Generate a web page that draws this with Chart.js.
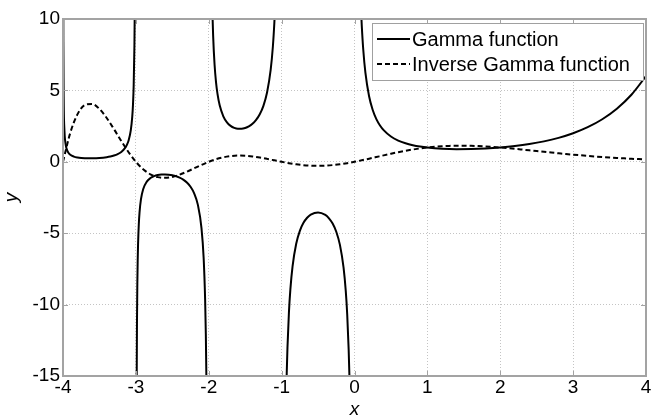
<!DOCTYPE html>
<html>
<head>
<meta charset="utf-8">
<title>Gamma function</title>
<script src="https://cdn.jsdelivr.net/npm/chart.js@4.4.0/dist/chart.umd.min.js"></script>
<style>
  html, body { margin: 0; padding: 0; background: #fff; }
  #grafica { display: block; }
</style>
</head>
<body>
<canvas id="grafica" width="654" height="417"></canvas>
<script>
// Gamma: una rama por intervalo, separadas por null en los polos (-3, -2, -1, 0)
const gammaX = [
  -3.997, -3.995, -3.99, -3.98, -3.97, -3.96, -3.95, -3.93, -3.9, -3.85, -3.8, -3.75, -3.7, -3.65,
  -3.6, -3.5, -3.4, -3.35, -3.3, -3.25, -3.2, -3.15, -3.12, -3.1, -3.07, -3.05, -3.04, -3.03, -3.02, -3.015,
  -3,
  -2.99, -2.985, -2.98, -2.975, -2.97, -2.96, -2.95, -2.93, -2.9, -2.85, -2.8, -2.75, -2.7, -2.65,
  -2.6, -2.55, -2.5, -2.4, -2.35, -2.3, -2.25, -2.2, -2.15, -2.1, -2.07, -2.05, -2.04, -2.03,
  -2,
  -1.96, -1.95, -1.94, -1.92, -1.9, -1.88, -1.85, -1.8, -1.75, -1.7, -1.65, -1.6, -1.55, -1.5,
  -1.45, -1.4, -1.35, -1.3, -1.25, -1.2, -1.15, -1.12, -1.1, -1.09,
  -1,
  -0.94, -0.93, -0.92, -0.9, -0.88, -0.85, -0.8, -0.75, -0.7, -0.65, -0.6, -0.5, -0.4, -0.35,
  -0.3, -0.25, -0.2, -0.15, -0.12, -0.1, -0.08, -0.07, -0.06,
  0,
  0.08, 0.09, 0.1, 0.12, 0.15, 0.2, 0.25, 0.3, 0.35, 0.4, 0.5, 0.6, 0.7, 0.8, 0.9, 1.0,
  1.2, 1.4, 1.6, 1.8, 2.0, 2.2, 2.4, 2.6, 2.8, 3.0, 3.2, 3.4, 3.6, 3.8, 4.0
];
const gammaY = [
  13.95, 8.40, 4.23, 2.149, 1.455, 1.109, 0.902, 0.666, 0.492, 0.361, 0.300, 0.268, 0.252, 0.245,
  0.247, 0.270, 0.326, 0.372, 0.439, 0.536, 0.689, 0.952, 1.221, 1.492, 2.197, 3.142, 3.972, 5.355, 8.13, 10.9,
  null,
  -16.88, -11.33, -8.55, -6.886, -5.777, -4.392, -3.563, -2.619, -1.918, -1.388, -1.139, -1.005, -0.931, -0.896,
  -0.889, -0.905, -0.945, -1.108, -1.247, -1.447, -1.743, -2.205, -3.0, -4.626, -6.738, -9.584, -12.07, -16.23,
  null,
  13.0, 10.51, 8.854, 6.792, 5.563, 4.753, 3.956, 3.188, 2.762, 2.514, 2.374, 2.311, 2.309, 2.363,
  2.477, 2.659, 2.931, 3.328, 3.921, 4.851, 6.449, 8.075, 9.715, 10.79,
  null,
  -17.18, -14.81, -13.04, -10.57, -8.935, -7.318, -5.739, -4.834, -4.274, -3.917, -3.697, -3.545, -3.723, -3.957,
  -4.327, -4.902, -5.821, -7.417, -9.044, -10.69, -13.16, -14.94, -17.31,
  null,
  12.0, 10.62, 9.514, 7.863, 6.220, 4.591, 3.626, 2.992, 2.546, 2.218, 1.772, 1.489, 1.298, 1.164, 1.069, 1.0,
  0.918, 0.887, 0.894, 0.931, 1.0, 1.102, 1.242, 1.430, 1.677, 2.0, 2.424, 2.981, 3.717, 4.694, 6.0
];

// Inversa de Gamma (1/Gamma), continua en todo el intervalo
const invX = [
  -4.0, -3.9, -3.8, -3.7, -3.6, -3.5, -3.4, -3.3, -3.2, -3.1,
  -3.0, -2.9, -2.8, -2.7, -2.6, -2.5, -2.4, -2.3, -2.2, -2.1,
  -2.0, -1.9, -1.8, -1.7, -1.6, -1.5, -1.4, -1.3, -1.2, -1.1,
  -1.0, -0.9, -0.8, -0.7, -0.6, -0.5, -0.4, -0.3, -0.2, -0.1,
  0.0, 0.1, 0.2, 0.3, 0.4, 0.5, 0.6, 0.7, 0.8, 0.9,
  1.0, 1.1, 1.2, 1.3, 1.4, 1.5, 1.6, 1.7, 1.8, 1.9,
  2.0, 2.1, 2.2, 2.3, 2.4, 2.5, 2.6, 2.7, 2.8, 2.9,
  3.0, 3.1, 3.2, 3.3, 3.4, 3.5, 3.6, 3.7, 3.8, 3.9, 4.0
];
const invY = [
  0, 2.033, 3.338, 3.975, 4.050, 3.702, 3.068, 2.281, 1.451, 0.670,
  0, -0.521, -0.878, -1.074, -1.125, -1.058, -0.903, -0.691, -0.454, -0.216,
  0, 0.180, 0.314, 0.398, 0.433, 0.423, 0.376, 0.300, 0.206, 0.103,
  0, -0.095, -0.174, -0.234, -0.271, -0.282, -0.269, -0.231, -0.172, -0.094,
  0, 0.105, 0.218, 0.334, 0.451, 0.564, 0.672, 0.770, 0.859, 0.936,
  1.0, 1.051, 1.089, 1.114, 1.127, 1.128, 1.119, 1.101, 1.074, 1.040,
  1.0, 0.956, 0.908, 0.857, 0.805, 0.752, 0.700, 0.647, 0.597, 0.547,
  0.5, 0.455, 0.413, 0.373, 0.335, 0.301, 0.269, 0.240, 0.213, 0.189, 0.167
];

const xTicks = [-4, -3, -2, -1, 0, 1, 2, 3, 4];
const yTicks = [-15, -10, -5, 0, 5, 10];
const seriesNames = ['Gamma function', 'Inverse Gamma function'];

const FUENTE = '"Liberation Sans", Arial, sans-serif';
const GRIS_EJE = '#a3a3a3';

function toPoints(xs, ys) {
  return xs.map((x, i) => ({ x: x, y: ys[i] }));
}

// Marco de los ejes con marcas hacia dentro en los cuatro lados
const marcoEjes = {
  id: 'marcoEjes',
  afterDatasetsDraw(chart) {
    const { ctx, chartArea, scales } = chart;
    const { left, right, top, bottom } = chartArea;
    ctx.save();
    ctx.strokeStyle = GRIS_EJE;
    ctx.lineWidth = 1;
    ctx.beginPath();
    xTicks.forEach(v => {
      const px = Math.round(scales.x.getPixelForValue(v)) + 0.5;
      ctx.moveTo(px, bottom); ctx.lineTo(px, bottom - 5);
      ctx.moveTo(px, top); ctx.lineTo(px, top + 5);
    });
    yTicks.forEach(v => {
      const py = Math.round(scales.y.getPixelForValue(v)) + 0.5;
      ctx.moveTo(left, py); ctx.lineTo(left + 5, py);
      ctx.moveTo(right, py); ctx.lineTo(right - 5, py);
    });
    ctx.stroke();
    ctx.lineWidth = 2;
    ctx.strokeRect(left, top, right - left, bottom - top);
    ctx.restore();
  }
};

// Leyenda dentro del área, arriba a la derecha
const leyenda = {
  id: 'leyenda',
  afterDraw(chart) {
    const ctx = chart.ctx;
    const caja = { x: 372.5, y: 23.5, w: 271, h: 57 };
    ctx.save();
    ctx.fillStyle = '#fff';
    ctx.fillRect(caja.x, caja.y, caja.w, caja.h);
    ctx.strokeStyle = '#a0a0a0';
    ctx.lineWidth = 1;
    ctx.strokeRect(caja.x, caja.y, caja.w, caja.h);

    const filas = [39, 64];
    const dashes = [[], [5, 3]];
    ctx.strokeStyle = '#000';
    ctx.lineWidth = 2;
    filas.forEach((fy, i) => {
      ctx.setLineDash(dashes[i]);
      ctx.beginPath();
      ctx.moveTo(377, fy);
      ctx.lineTo(410, fy);
      ctx.stroke();
    });
    ctx.setLineDash([]);
    ctx.fillStyle = '#000';
    ctx.font = '20px ' + FUENTE;
    ctx.textBaseline = 'middle';
    ctx.textAlign = 'left';
    filas.forEach((fy, i) => ctx.fillText(seriesNames[i], 412, fy + 1));
    ctx.restore();
  }
};

const ctx = document.getElementById('grafica').getContext('2d');

new Chart(ctx, {
  type: 'line',
  data: {
    datasets: [
      {
        label: seriesNames[0],
        data: toPoints(gammaX, gammaY),
        borderColor: '#000',
        borderWidth: 2,
        pointRadius: 0,
        fill: false,
        spanGaps: false,
        cubicInterpolationMode: 'monotone',
        clip: 0
      },
      {
        label: seriesNames[1],
        data: toPoints(invX, invY),
        borderColor: '#000',
        borderWidth: 2,
        borderDash: [5, 3],
        pointRadius: 0,
        fill: false,
        cubicInterpolationMode: 'monotone',
        clip: 0
      }
    ]
  },
  options: {
    responsive: false,
    devicePixelRatio: 1,
    animation: false,
    layout: { padding: { top: 19, right: 8, left: 0, bottom: 0 } },
    plugins: {
      legend: { display: false },
      tooltip: { enabled: false }
    },
    scales: {
      x: {
        type: 'linear',
        min: -4,
        max: 4,
        afterBuildTicks: s => { s.ticks = xTicks.map(v => ({ value: v })); },
        afterFit: s => { s.height = 41; },
        ticks: {
          color: '#000',
          font: { family: FUENTE, size: 19 },
          padding: 0,
          maxRotation: 0,
          autoSkip: false
        },
        grid: { color: '#c4c4c4', lineWidth: 1, drawTicks: false },
        border: { display: false, dash: [1, 2] },
        title: {
          display: true,
          text: 'x',
          color: '#000',
          font: { family: FUENTE, size: 19, style: 'italic', lineHeight: 0.8 },
          padding: 0
        }
      },
      y: {
        type: 'linear',
        min: -15,
        max: 10,
        afterBuildTicks: s => { s.ticks = yTicks.map(v => ({ value: v })); },
        afterFit: s => { s.width = 63; },
        ticks: {
          color: '#000',
          font: { family: FUENTE, size: 19 },
          padding: 3
        },
        grid: { color: '#c4c4c4', lineWidth: 1, drawTicks: false },
        border: { display: false, dash: [1, 2] },
        title: {
          display: true,
          text: 'y',
          color: '#000',
          font: { family: FUENTE, size: 19, style: 'italic', lineHeight: 1.2 },
          padding: 0
        }
      }
    }
  },
  plugins: [marcoEjes, leyenda]
});
</script>
</body>
</html>
